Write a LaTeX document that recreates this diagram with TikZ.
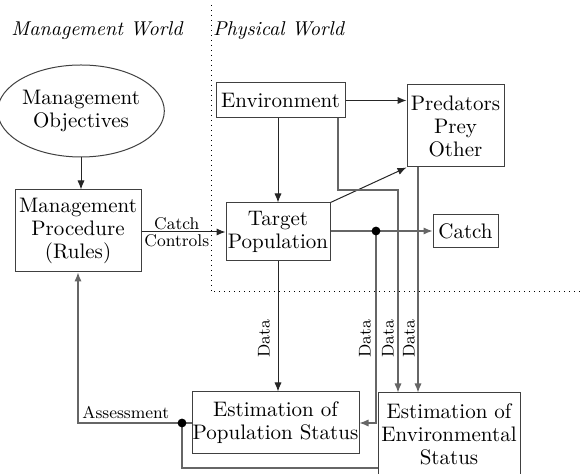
\documentclass[tikz,border=0pt]{standalone}
\usepackage{tikz}
\usetikzlibrary{arrows.meta}
\usetikzlibrary{shapes.geometric}

\begin{document}
\begin{tikzpicture}[x=0.5pt,y=-0.5pt,>={Latex[length=4.5pt,width=3.6pt]},
    box/.style={draw=black!75,line width=0.5pt,align=center,inner sep=0pt,
      font=\fontsize{10.5}{11.5}\selectfont},
    oval/.style={box,ellipse},
    lbl/.style={font=\fontsize{8.5}{10}\selectfont,inner sep=1pt},
    ttl/.style={font=\fontsize{10}{12}\selectfont\itshape},
    arr/.style={->,draw=black!85,line width=0.5pt},
    garr/.style={->,draw=black!60,line width=0.55pt},
    gline/.style={draw=black!60,line width=0.55pt}]
        \useasboundingbox (0,0) rectangle (583,474);
        % the two worlds
        \draw[dotted,line width=0.5pt] (211,5) -- (211,292) -- (583,292);
        \node[ttl] (mw) at (97,31) {Management World};
        \node[ttl] (pw) at (278.5,31) {Physical World};

        \node[oval,minimum width=69pt,minimum height=46pt] (obj) at (81,111)
          {Management\\Objectives};
        \node[box,minimum width=63pt,minimum height=41pt] (proc) at (78,231)
          {Management\\Procedure\\(Rules)};
        \node[box,minimum width=64.5pt,minimum height=17.5pt] (env) at (280.5,100.5)
          {Environment};
        \node[box,minimum width=48.5pt,minimum height=41pt] (pred) at (455.5,126)
          {Predators\\Prey\\Other};
        \node[box,minimum width=52pt,minimum height=29pt] (tp) at (278,232)
          {Target\\Population};
        \node[box,minimum width=32.5pt,minimum height=16.5pt] (catch) at (465.5,231.5)
          {Catch};
        \node[box,minimum width=83.5pt,minimum height=31pt] (pop) at (275.5,423)
          {Estimation of\\Population Status};
        \node[box,minimum width=71pt,minimum height=41.5pt] (envst) at (449,434.5)
          {Estimation of\\Environmental\\Status};

        \coordinate (k1) at (338,190);
        \coordinate (k2) at (398,190);
        \coordinate (k3) at (418,300);
        \coordinate (dot1) at (376,231);
        \coordinate (dot2) at (182,423);
        \coordinate (k4) at (182,468);

        \draw[arr] (obj) -- (obj.south |- proc.north);
        \draw[arr] (proc.east |- tp.west) -- (tp.west)
          node[lbl,pos=0.42,above] (ctch) {Catch}
          node[lbl,pos=0.42,below] (ctrl) {Controls};
        \draw[arr] (env.east) -- (env.east -| pred.west);
        \draw[arr] (tp.north |- env.south) -- (tp.north);
        \draw[arr] (tp.north east) -- (pred.south west);
        \draw[garr] (env.south -| k1) -- (k1) -- (k2) -- (k2 |- envst.north);
        \draw[garr] (pred.south -| k3) -- (k3 |- envst.north);
        \draw[garr] (tp.east |- dot1) -- (catch.west |- dot1);
        \draw[garr] (dot1) |- (pop.east);
        \draw[arr] (tp.south) -- (tp.south |- pop.north);
        \draw[gline] (pop.west) -- (dot2);
        \draw[garr] (dot2) -| (proc.south)
          node[lbl,pos=0.27,above=1pt] (asm) {Assessment};
        \draw[gline] (envst.west |- k4) -- (k4) -- (dot2);
        \fill (dot1) circle (2.2pt);
        \fill (dot2) circle (2.2pt);

        \foreach \n/\x in {a/264,b/365,c/388,d/409} {
          \node[lbl,rotate=90] (data\n) at (\x,339) {Data};
        }
\end{tikzpicture}
\end{document}
